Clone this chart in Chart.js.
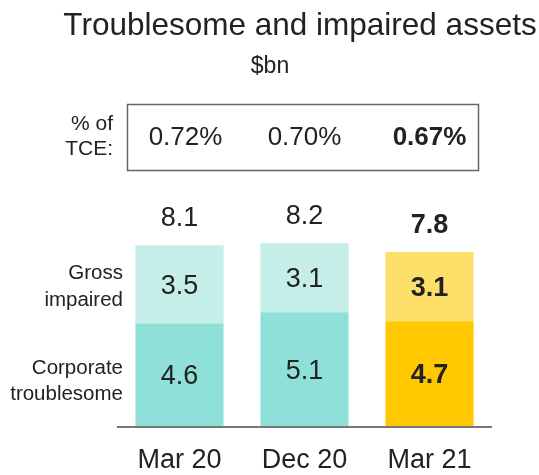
<!DOCTYPE html>
<html>
<head>
<meta charset="utf-8">
<script src="https://cdn.jsdelivr.net/npm/chart.js@4"></script>
<style>
  html, body { margin: 0; padding: 0; background: #fff; }
  #wrap { width: 539px; height: 475px; }
</style>
</head>
<body>
<div id="wrap"><canvas id="chart" width="539" height="475"></canvas></div>
<script>
// data
const categories = ['Mar 20', 'Dec 20', 'Mar 21'];
const corporateTroublesome = [4.6, 5.1, 4.7];
const grossImpaired = [3.5, 3.1, 3.1];
const totals = ['8.1', '8.2', '7.8'];
const pctOfTCE = ['0.72%', '0.70%', '0.67%'];

const FONT = '"Liberation Sans", Arial, sans-serif';
const INK = '#222222';

// teal for past periods, yellow for latest
const lowColors = ['#8fe0d8', '#8fe0d8', '#ffc800'];
const highColors = ['#c5eee9', '#c5eee9', '#fde06a'];

// text + box + axis drawn on top of the bars
const annotations = {
    id: 'annotations',
    afterDatasetsDraw(chart) {
        const ctx = chart.ctx;
        const area = chart.chartArea;
        const x = chart.scales.x;
        const low = chart.getDatasetMeta(0).data;
        const high = chart.getDatasetMeta(1).data;
        const last = categories.length - 1;

        ctx.save();
        ctx.fillStyle = INK;
        ctx.textBaseline = 'middle';

        // title
        ctx.textAlign = 'center';
        ctx.font = '31.5px ' + FONT;
        ctx.fillText('Troublesome and impaired assets', 300, 26);
        ctx.font = '23px ' + FONT;
        ctx.fillText('$bn', 270, 67);

        // % of TCE box
        ctx.strokeStyle = '#666';
        ctx.lineWidth = 1.5;
        ctx.strokeRect(127.5, 104.5, 351, 66);
        ctx.font = '21px ' + FONT;
        ctx.textAlign = 'right';
        ctx.fillText('% of', 113, 124);
        ctx.fillText('TCE:', 113, 149);
        pctOfTCE.forEach((p, i) => {
            ctx.font = (i === last ? 'bold ' : '') + '26px ' + FONT;
            ctx.textAlign = 'center';
            ctx.fillText(p, x.getPixelForValue(i) + (i === 0 ? 6 : 0), 138);
        });

        // series labels on the left
        ctx.font = '20.5px ' + FONT;
        ctx.textAlign = 'right';
        ctx.fillText('Gross', 123, 273);
        ctx.fillText('impaired', 123, 300);
        ctx.fillText('Corporate', 123, 368);
        ctx.fillText('troublesome', 123, 394);

        // values inside segments and totals above
        ctx.textAlign = 'center';
        categories.forEach((c, i) => {
            const bold = i === last ? 'bold ' : '';
            ctx.font = bold + '27px ' + FONT;
            const lo = low[i], hi = high[i];
            ctx.fillText(corporateTroublesome[i].toFixed(1), lo.x, (lo.y + lo.base) / 2 + 2);
            ctx.fillText(grossImpaired[i].toFixed(1), hi.x, (hi.y + hi.base) / 2 + 2);
            ctx.fillText(totals[i], hi.x, hi.y - 27);
            ctx.font = '27px ' + FONT;
            ctx.fillText(c, x.getPixelForValue(i), area.bottom + 35);
        });

        // baseline
        ctx.strokeStyle = '#777';
        ctx.lineWidth = 2;
        ctx.beginPath();
        ctx.moveTo(area.left, area.bottom + 1);
        ctx.lineTo(area.right, area.bottom + 1);
        ctx.stroke();
        ctx.restore();
    }
};

new Chart(document.querySelector('#chart').getContext('2d'), {
    type: 'bar',
    data: {
        labels: categories,
        datasets: [
            {
                label: 'Corporate troublesome',
                data: corporateTroublesome,
                backgroundColor: lowColors,
                barPercentage: 0.705,
                categoryPercentage: 1
            },
            {
                label: 'Gross impaired',
                data: grossImpaired,
                backgroundColor: highColors,
                barPercentage: 0.705,
                categoryPercentage: 1
            }
        ]
    },
    options: {
        responsive: false,
        animation: false,
        layout: { padding: { left: 117, right: 47, top: 203, bottom: 49 } },
        plugins: { legend: { display: false }, tooltip: { enabled: false } },
        scales: {
            x: { stacked: true, display: false },
            y: { stacked: true, display: false, min: 0, max: 10 }
        }
    },
    plugins: [annotations]
});
</script>
</body>
</html>
